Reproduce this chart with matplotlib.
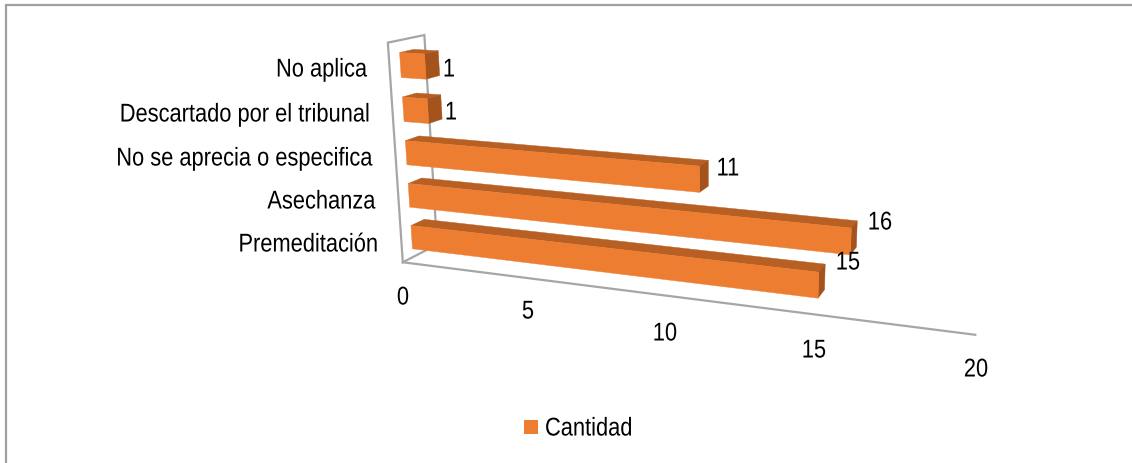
import numpy as np
import matplotlib
matplotlib.use("Agg")
import matplotlib.pyplot as plt
from matplotlib.patches import Polygon
from matplotlib.patheffects import AbstractPathEffect
from matplotlib.transforms import Affine2D

plt.rcParams['font.family'] = ['Liberation Sans', 'DejaVu Sans']

# ---- data (bottom to top)
categories = ["Premeditación", "Asechanza", "No se aprecia o especifica",
              "Descartado por el tribunal", "No aplica"]
values = [15, 16, 11, 1, 1]
value_ticks = [0, 5, 10, 15, 20]
series_name = "Cantidad"

W, H = 1132, 463
FRONT, TOP, SIDE = "#ED7D31", "#B85F24", "#A4531C"
GREY = "#A6A6A6"
BAR_H = 0.56

# ---- perspective camera, calibrated on the picture:
# (value, level, depth) -> pixel, 3x4 matrix by least squares
calib = [
    (0, 0, 0, 412.3, 248.3), (0, BAR_H, 0, 411, 225.7), (15, 0, 0, 817.7, 297.7), (15, BAR_H, 0, 818.3, 271.7),
    (15, BAR_H, 1, 825.3, 263.3), (15, 0, 1, 824, 290.7), (0, BAR_H, 1, 425, 218.7),
    (0, 1, 0, 409.3, 207.3), (0, 1 + BAR_H, 0, 408.3, 183.3), (16, 1, 0, 850, 253.3), (16, 1 + BAR_H, 0, 851, 228.3),
    (16, 1 + BAR_H, 1, 857.7, 220.7), (16, 1, 1, 856, 246.7), (0, 1 + BAR_H, 1, 421.7, 178),
    (0, 2, 0, 406.7, 165), (0, 2 + BAR_H, 0, 405.7, 140), (11, 2, 0, 699.7, 192.7), (11, 2 + BAR_H, 0, 699.7, 166.7),
    (11, 2 + BAR_H, 1, 708.7, 160.7), (11, 2, 1, 708.7, 186.7), (0, 2 + BAR_H, 1, 419.3, 135.7),
    (0, 3, 0, 404, 121), (0, 3 + BAR_H, 0, 403, 98.3), (1, 3, 0, 429, 123), (1, 3 + BAR_H, 0, 428.3, 99),
    (1, 3 + BAR_H, 1, 440.7, 94.3), (1, 3, 1, 442.3, 119.3), (0, 3 + BAR_H, 1, 415.7, 92.7),
    (0, 4, 0, 401, 77.3), (0, 4 + BAR_H, 0, 399.7, 52.7), (1, 4, 0, 426.3, 79), (1, 4 + BAR_H, 0, 425.7, 53.3),
    (1, 4 + BAR_H, 1, 438.3, 50), (1, 4, 1, 439.7, 75), (0, 4 + BAR_H, 1, 412.3, 49),
    (0, -0.2, -0.75, 402.3, 262.3), (20, -0.2, -0.75, 976, 336),
    (0, 4.83, -0.75, 386.7, 44.3), (0, 4.83, 1.85, 424, 36), (0, -0.2, 1.85, 437, 246),
]
A, b = [], []
for v, y, d, px, py in calib:
    A.append([v, y, d, 1, 0, 0, 0, 0, -px * v, -px * y, -px * d]); b.append(px)
    A.append([0, 0, 0, 0, v, y, d, 1, -py * v, -py * y, -py * d]); b.append(py)
m = np.linalg.lstsq(np.array(A, float), np.array(b, float), rcond=None)[0]
CAM = np.append(m, 1.0).reshape(3, 4)

def proj(v, y, d):
    q = CAM @ np.array([v, y, d, 1.0])
    return q[0] / q[2], q[1] / q[2]

class Condense(AbstractPathEffect):
    """Squeeze a text horizontally about its anchor, as in the reference."""
    def __init__(self, x_display, sx):
        super().__init__()
        self.x, self.sx = x_display, sx
    def draw_path(self, renderer, gc, tpath, affine, rgbFace=None):
        aff = affine + Affine2D().translate(-self.x, 0).scale(self.sx, 1).translate(self.x, 0)
        renderer.draw_path(gc, tpath, aff, rgbFace)

fig = plt.figure(figsize=(W / 100, H / 100), dpi=100)
ax = fig.add_axes([0, 0, 1, 1])
ax.set_xlim(0, W); ax.set_ylim(H, 0); ax.axis("off")

# outer chart border: top and left only
ax.plot([6, 6, W], [H, 4.5, 4.5], color="#A0A0A0", lw=1.6, solid_joinstyle="miter", zorder=1)

# walls and floor
Y0, Y1, D0, D1 = -0.2, 4.83, -0.75, 1.85
frame = [
    [(0, Y0, D1), (0, Y0, D0), (0, Y1, D0), (0, Y1, D1), (0, Y0, D1)],
    [(0, Y0, D0), (20, Y0, D0)],
]
for seg in frame:
    pts = np.array([proj(*p) for p in seg])
    ax.plot(pts[:, 0], pts[:, 1], color=GREY, lw=1.6, solid_joinstyle="miter", zorder=2)

# bars (top to bottom, the lower ones are nearer)
order = list(range(len(values)))[::-1]
for i in order:
    v = values[i]
    y0, y1 = i, i + BAR_H
    top = [proj(0, y1, 0), proj(v, y1, 0), proj(v, y1, 1), proj(0, y1, 1)]
    side = [proj(v, y0, 0), proj(v, y1, 0), proj(v, y1, 1), proj(v, y0, 1)]
    front = [proj(0, y0, 0), proj(v, y0, 0), proj(v, y1, 0), proj(0, y1, 0)]
    ax.add_patch(Polygon(top, closed=True, fc=TOP, ec=TOP, lw=0.3, zorder=3))
    ax.add_patch(Polygon(side, closed=True, fc=SIDE, ec=SIDE, lw=0.3, zorder=3))
    ax.add_patch(Polygon(front, closed=True, fc=FRONT, ec=FRONT, lw=0.3, zorder=3))

FS = 18.5
SX = 0.85
TXT = "#000000"

def label(x, y, s, ha):
    t = ax.text(x, y, s, ha=ha, va="center_baseline", fontsize=FS, color=TXT, zorder=5)
    t.set_path_effects([Condense(x, SX)])

# category labels
cat_px = [(378.5, 242), (375.5, 199), (373.5, 156), (370.5, 112), (367.5, 67)]
for name, (x, y) in zip(categories, cat_px):
    label(x, y, name, "right")

# value labels
val_px = [(848, 260), (880, 220), (728, 166), (451, 110), (449, 67)]
for v, (x, y) in zip(values, val_px):
    label(x, y, str(v), "center")

# value axis tick labels
tick_px = [(403, 295), (528, 309), (665, 331), (814, 348), (976, 367)]
for t, (x, y) in zip(value_ticks, tick_px):
    label(x, y, str(t), "center")

# legend
ax.add_patch(plt.Rectangle((524, 420), 14, 14, fc=FRONT, ec="none", zorder=5))
label(545, 426, series_name, "left")

fig.savefig("out.png", dpi=100)
